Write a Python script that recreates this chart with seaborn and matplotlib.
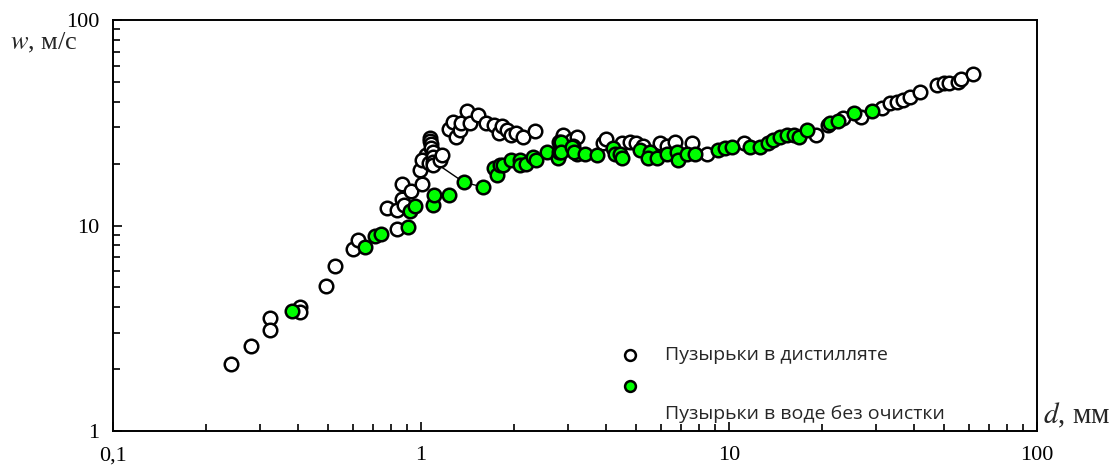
import numpy as np
import pandas as pd
import matplotlib
matplotlib.use("Agg")
import matplotlib.pyplot as plt
import seaborn as sns
from matplotlib.ticker import FixedLocator, FixedFormatter, LogLocator, NullFormatter

sns.set_style("white")
plt.rcParams["font.family"] = ["Liberation Serif", "DejaVu Serif"]
plt.rcParams["mathtext.fontset"] = "stix"

# Bubbles in distilled water (open circles)
d_dist = [0.241, 0.281, 0.324, 0.324, 0.405, 0.405, 0.492, 0.526, 0.603, 0.625,
          0.774, 0.834, 0.834, 0.865, 0.88, 0.865, 0.925, 1.005, 0.99, 1.04,
          1.005, 1.06, 1.07, 1.07, 1.08, 1.08, 1.09, 1.09, 1.09, 1.09,
          1.15, 1.17, 1.23, 1.27, 1.30, 1.34, 1.35, 1.41, 1.44, 1.53,
          1.63, 1.72, 1.79, 1.83, 1.90, 1.96, 2.04, 2.15, 2.34, 2.87,
          2.9, 3.1, 3.2, 3.9, 4.0, 4.5, 4.77, 5.0, 5.27, 5.95,
          6.27, 6.67, 7.57, 8.46, 11.2, 19.1, 21.0, 23.5, 26.9, 31.3,
          33.3, 35.0, 36.8, 38.7, 41.7, 47.2, 50.0, 51.9, 55.2, 56.8, 61.8]
w_dist = [2.12, 2.59, 3.55, 3.1, 4.0, 3.8, 5.08, 6.35, 7.66, 8.5,
          12.1, 9.58, 11.9, 13.4, 12.6, 15.9, 14.8, 15.9, 18.6, 22.0,
          20.8, 20.1, 26.7, 25.8, 24.9, 23.8, 22.8, 21.6, 20.3, 19.7,
          20.8, 22.0, 29.4, 32.0, 27.0, 29.1, 31.4, 36.2, 31.4, 34.5,
          31.6, 30.8, 28.1, 30.4, 29.1, 27.5, 28.3, 27.0, 28.7, 26.5,
          27.5, 26.1, 27.0, 25.1, 26.5, 25.1, 25.6, 25.1, 24.5, 25.1,
          24.5, 25.6, 25.1, 22.4, 25.1, 27.5, 30.8, 33.2, 33.8, 37.2,
          39.3, 40.0, 40.9, 42.3, 44.8, 48.2, 49.2, 49.6, 50.1, 51.9, 54.6]

# Bubbles in untreated water (green)
d_tap = [0.381, 0.658, 0.71, 0.74, 0.91, 0.92, 0.954, 1.09, 1.1, 1.23,
         1.38, 1.59, 1.72, 1.76, 1.8, 1.85, 1.96, 2.09, 2.1, 2.19,
         2.31, 2.37, 2.56, 2.79, 2.8, 2.8, 3.11, 3.2, 2.85, 2.85,
         3.1, 3.15, 3.41, 3.72, 4.21, 4.26, 4.43, 4.5, 5.14, 5.54,
         5.47, 5.82, 6.27, 6.76, 6.84, 7.29, 7.76, 9.23, 9.7, 10.2,
         11.7, 12.6, 13.4, 13.9, 14.6, 15.4, 16.3, 16.9, 17.9, 21.3,
         22.6, 25.4, 29.1]
w_tap = [3.84, 7.9, 8.92, 9.1, 9.87, 11.7, 12.4, 12.6, 14.1, 14.1,
         16.2, 15.4, 19.0, 17.6, 19.7, 19.7, 20.8, 20.8, 19.7, 20.0,
         21.6, 20.8, 22.9, 21.2, 25.6, 22.9, 24.5, 22.4, 25.6, 22.9,
         24.2, 22.9, 22.4, 22.0, 23.7, 22.4, 22.4, 21.2, 23.3, 22.9,
         21.2, 21.2, 22.4, 22.9, 20.8, 22.4, 22.4, 23.3, 23.7, 24.2,
         24.2, 24.2, 25.3, 26.1, 26.9, 27.5, 27.5, 26.9, 29.1, 31.4,
         32.3, 35.4, 36.2]

# thin connecting line near the jump
d_link = [1.14, 1.38, 1.59]
w_link = [19.7, 16.2, 15.4]

x_ticks = [0.1, 1, 10, 100]
x_ticklabels = ["0,1", "1", "10", "100"]
y_ticks = [1, 10, 100]
y_ticklabels = ["1", "10", "100"]

label_dist = "Пузырьки в дистилляте"
label_tap = "Пузырьки в воде без очистки"

dist_df = pd.DataFrame({"d": d_dist, "w": w_dist})
tap_df = pd.DataFrame({"d": d_tap, "w": w_tap})
link_df = pd.DataFrame({"d": d_link, "w": w_link})

fig = plt.figure(figsize=(11.15, 4.66), dpi=100)
ax = fig.add_axes([113 / 1115, 1 - 431 / 466, 924 / 1115, 411 / 466])

sns.lineplot(data=link_df, x="d", y="w", sort=False, color="black", lw=1.0, ax=ax, zorder=2)
sns.scatterplot(data=dist_df, x="d", y="w", ax=ax, s=95, facecolor="white",
                edgecolor="black", linewidth=1.8, label=label_dist, zorder=3)
sns.scatterplot(data=tap_df, x="d", y="w", ax=ax, s=95, facecolor="#00ff00",
                edgecolor="black", linewidth=1.8, label=" ", zorder=4)

ax.set_xscale("log")
ax.set_yscale("log")
ax.set_xlim(0.1, 100)
ax.set_ylim(1, 100)

ax.xaxis.set_major_locator(FixedLocator(x_ticks))
ax.xaxis.set_major_formatter(FixedFormatter(x_ticklabels))
ax.yaxis.set_major_locator(FixedLocator(y_ticks))
ax.yaxis.set_major_formatter(FixedFormatter(y_ticklabels))
ax.xaxis.set_minor_locator(LogLocator(base=10, subs=np.arange(2, 10)))
ax.yaxis.set_minor_locator(LogLocator(base=10, subs=np.arange(2, 10)))
ax.xaxis.set_minor_formatter(NullFormatter())
ax.yaxis.set_minor_formatter(NullFormatter())
ax.tick_params(which="both", direction="in", width=1.2, top=False, right=False,
               bottom=True, left=True, labelsize=16, colors="black")
ax.tick_params(which="major", length=6.5)
ax.tick_params(which="minor", length=5)
ax.tick_params(axis="x", which="major", pad=11)
ax.tick_params(axis="y", which="major", pad=10)
for lab in ax.get_xticklabels() + ax.get_yticklabels():
    lab.set_fontfamily("Liberation Serif")
ax.set_xlabel("")
ax.set_ylabel("")
for sp in ax.spines.values():
    sp.set_linewidth(1.4)
    sp.set_color("black")

fig.text(10 / 1115, 1 - 43 / 466, "$w$, м/с", fontsize=19, va="center", ha="left",
         family="Liberation Serif")
fig.text(1043 / 1115, 1 - 415 / 466, "$d$, мм", fontsize=21, va="center", ha="left",
         family="Liberation Serif")

leg = ax.legend(loc="upper left", bbox_to_anchor=(611 / 1115, 1 - 336 / 466),
                bbox_transform=fig.transFigure, frameon=False, borderpad=0,
                handlelength=1.0, handletextpad=1.3, labelspacing=0.71,
                markerscale=0.8, prop={"family": "Open Sans", "size": 14})
fig.text(665 / 1115, 1 - 414 / 466, label_tap, fontsize=14, family="Open Sans",
         va="center", ha="left")

fig.savefig("out.png", dpi=100)
